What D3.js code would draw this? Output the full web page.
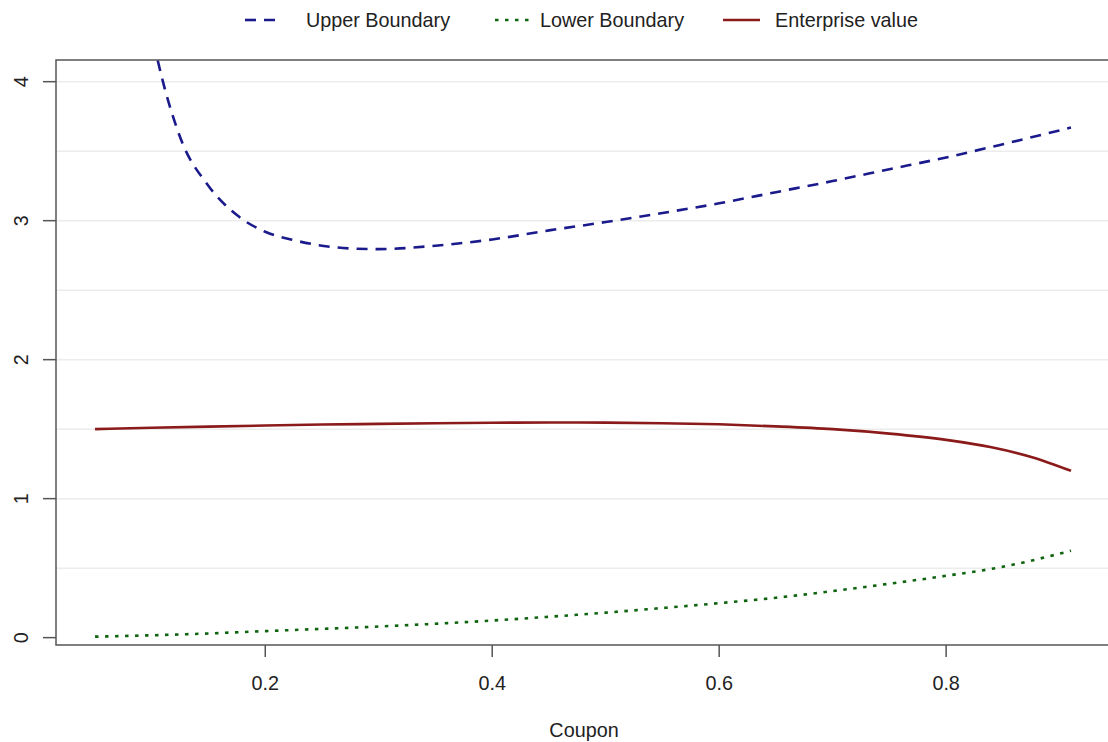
<!DOCTYPE html>
<html>
<head>
<meta charset="utf-8">
<script src="https://cdn.jsdelivr.net/npm/d3@7"></script>
<style>
  body { margin: 0; background: #fff; }
  svg { display: block; font-family: "Liberation Sans", Arial, Helvetica, sans-serif; }
</style>
</head>
<body>
<svg id="chart" width="1108" height="742"></svg>
<script>
// ---- data ----
const upperX = [0.05, 0.075, 0.1, 0.125, 0.15, 0.175, 0.2, 0.225, 0.25, 0.275, 0.3, 0.35, 0.4, 0.45, 0.5, 0.55, 0.6, 0.65, 0.7, 0.75, 0.8, 0.85, 0.91];
const upperY = [8.5, 5.6, 4.35, 3.6, 3.25, 3.04, 2.92, 2.86, 2.82, 2.80, 2.795, 2.82, 2.865, 2.93, 2.99, 3.055, 3.125, 3.205, 3.285, 3.37, 3.455, 3.55, 3.67];

const lowerX = [0.05, 0.1, 0.15, 0.2, 0.25, 0.3, 0.35, 0.4, 0.45, 0.5, 0.55, 0.6, 0.65, 0.7, 0.75, 0.8, 0.85, 0.91];
const lowerY = [0.007, 0.017, 0.03, 0.047, 0.063, 0.08, 0.1, 0.123, 0.15, 0.18, 0.213, 0.248, 0.287, 0.335, 0.388, 0.445, 0.51, 0.625];

const evX = [0.05, 0.1, 0.15, 0.2, 0.25, 0.3, 0.35, 0.4, 0.45, 0.5, 0.55, 0.6, 0.65, 0.7, 0.75, 0.8, 0.84, 0.875, 0.91];
const evY = [1.50, 1.51, 1.518, 1.526, 1.533, 1.538, 1.543, 1.546, 1.548, 1.547, 1.543, 1.535, 1.52, 1.50, 1.468, 1.423, 1.37, 1.30, 1.20];

const xTicks = [0.2, 0.4, 0.6, 0.8];
const yTicks = [0, 1, 2, 3, 4];
const yGrid = [0.5, 1, 1.5, 2, 2.5, 3, 3.5, 4];

const seriesNames = ["Upper Boundary", "Lower Boundary", "Enterprise value"];
const seriesColors = ["#1a1a8c", "#0f640f", "#8b1a1a"];
const seriesDash = ["11,8", "3.5,6.5", null];

// ---- layout ----
const svg = d3.select("#chart");
const mLeft = 56, mRight = 1110, mTop = 60, mBottom = 645;
const fs = 19.8;
const x = d3.scaleLinear().domain([0.0156, 0.9444]).range([mLeft, mRight]);
const y = d3.scaleLinear().domain([-0.053, 4.156]).range([mBottom, mTop]);

svg.append("defs").append("clipPath").attr("id", "clip")
  .append("rect").attr("x", mLeft).attr("y", mTop).attr("width", mRight - mLeft).attr("height", mBottom - mTop);

// grid
svg.append("g").selectAll("line").data(yGrid).join("line")
  .attr("x1", mLeft).attr("x2", mRight)
  .attr("y1", d => y(d)).attr("y2", d => y(d))
  .attr("stroke", "#ececec").attr("stroke-width", 1.5);

// lines
const series = [
  upperX.map((v, i) => [v, upperY[i]]),
  lowerX.map((v, i) => [v, lowerY[i]]),
  evX.map((v, i) => [v, evY[i]])
];
const line = d3.line().x(d => x(d[0])).y(d => y(d[1])).curve(d3.curveMonotoneX);
const plot = svg.append("g").attr("clip-path", "url(#clip)");
series.forEach((s, i) => {
  plot.append("path").datum(s)
    .attr("d", line)
    .attr("fill", "none")
    .attr("stroke", seriesColors[i])
    .attr("stroke-width", 2.6)
    .attr("stroke-dasharray", seriesDash[i]);
});

// box (left, top, bottom)
const axisColor = "#555";
svg.append("path")
  .attr("d", `M${mRight},${mTop}H${mLeft}V${mBottom}H${mRight}`)
  .attr("fill", "none").attr("stroke", axisColor).attr("stroke-width", 1.5);

// x axis
const xAxis = svg.append("g");
xAxis.selectAll("line").data(xTicks).join("line")
  .attr("x1", d => x(d)).attr("x2", d => x(d))
  .attr("y1", mBottom).attr("y2", mBottom + 12)
  .attr("stroke", axisColor).attr("stroke-width", 1.5);
xAxis.selectAll("text").data(xTicks).join("text")
  .attr("x", d => x(d)).attr("y", 690)
  .attr("text-anchor", "middle")
  .attr("font-size", fs).attr("fill", "#222")
  .text(d => d3.format(".1f")(d));

// y axis
const yAxis = svg.append("g");
yAxis.selectAll("line").data(yTicks).join("line")
  .attr("x1", mLeft - 13).attr("x2", mLeft)
  .attr("y1", d => y(d)).attr("y2", d => y(d))
  .attr("stroke", axisColor).attr("stroke-width", 1.5);
yAxis.selectAll("text").data(yTicks).join("text")
  .attr("transform", d => `translate(28,${y(d)}) rotate(-90)`)
  .attr("text-anchor", "middle")
  .attr("font-size", fs).attr("fill", "#222")
  .text(d => d);

// x label
svg.append("text")
  .attr("x", 584).attr("y", 737)
  .attr("text-anchor", "middle")
  .attr("font-size", fs).attr("fill", "#222")
  .text("Coupon");

// legend
const legX = [245, 495, 723];
const legTextX = [306, 540, 775];
const lg = svg.append("g");
seriesNames.forEach((name, i) => {
  lg.append("line")
    .attr("x1", legX[i]).attr("x2", legX[i] + 37)
    .attr("y1", 20).attr("y2", 20)
    .attr("stroke", seriesColors[i]).attr("stroke-width", 2.6)
    .attr("stroke-dasharray", seriesDash[i]);
  lg.append("text")
    .attr("x", legTextX[i]).attr("y", 27)
    .attr("font-size", fs).attr("fill", "#222")
    .text(name);
});
</script>
</body>
</html>
